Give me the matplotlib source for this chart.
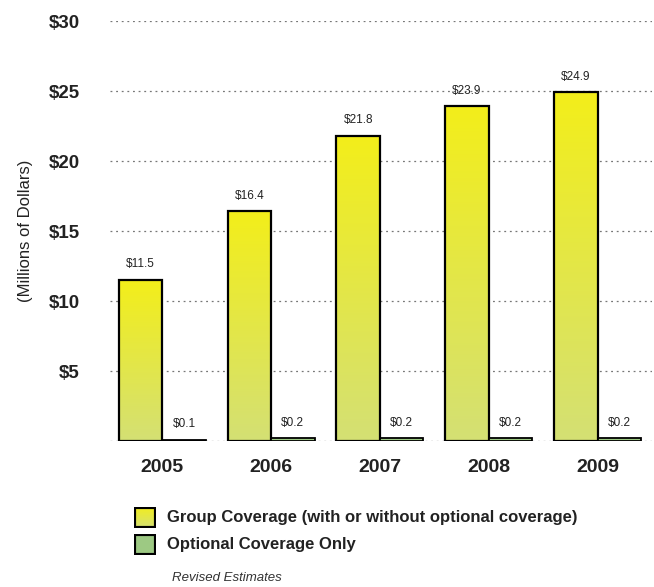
import numpy as np
import matplotlib
matplotlib.use("Agg")
import matplotlib.pyplot as plt
from matplotlib.colors import LinearSegmentedColormap
from matplotlib.patches import Rectangle

plt.rcParams['font.family'] = ['Liberation Sans Narrow', 'Liberation Sans', 'DejaVu Sans']

years = ["2005", "2006", "2007", "2008", "2009"]
group_cov = [11.5, 16.4, 21.8, 23.9, 24.9]
optional_cov = [0.1, 0.2, 0.2, 0.2, 0.2]
y_ticks = [5, 10, 15, 20, 25, 30]
legend_labels = ["Group Coverage (with or without optional coverage)", "Optional Coverage Only"]

grad = LinearSegmentedColormap.from_list("yel", ["#d4e074", "#f3ee1a"])
green = "#9dc983"

fig = plt.figure(figsize=(6.54, 5.87), dpi=100)
ax = fig.add_axes([110 / 654, 146 / 587, 542 / 654, 420 / 587])

x = np.arange(len(years))
w = 0.4
ax.set_xlim(-0.48, 4.5)
ax.set_ylim(0, 30)

# gridlines (dotted), including the zero line
for v in [0] + y_ticks:
    ax.axhline(v, color="#777777", lw=0.9, ls=(0, (1.5, 3)), zorder=0)

gradient = np.linspace(0, 1, 256).reshape(-1, 1)
for xi, v in zip(x, group_cov):
    left = xi - w
    rect = Rectangle((left, 0), w, v, facecolor="none", edgecolor="black", lw=1.6, zorder=3)
    ax.add_patch(rect)
    im = ax.imshow(gradient, cmap=grad, origin="lower", aspect="auto",
                   extent=(left, xi, 0, v), zorder=2)
    im.set_clip_path(rect)
    ax.text(xi - w / 2, v + 0.7, f"${v}", ha="center", va="bottom", fontsize=8.5, color="#222222")

ax.bar(x + w / 2, optional_cov, width=w, color=green, edgecolor="black", lw=1.3, zorder=3)
for xi, v in zip(x, optional_cov):
    ax.text(xi + w / 2, v + 0.65, f"${v}", ha="center", va="bottom", fontsize=8.5, color="#222222")

ax.set_yticks(y_ticks)
ax.set_yticklabels([f"${t}" for t in y_ticks], fontsize=13.5, fontweight="bold", color="#222222")
ax.set_xticks(x)
ax.set_xticklabels(years, fontsize=14, fontweight="bold", color="#222222")
ax.tick_params(length=0, axis="y", pad=22)
ax.tick_params(length=0, axis="x", pad=13)
for s in ax.spines.values():
    s.set_visible(False)
ax.set_ylabel("(Millions of Dollars)", fontsize=12, color="#222222", labelpad=11)

# legend
for i, (lab, yc) in enumerate(zip(legend_labels, [517.5, 544])):
    pax = fig.add_axes([134 / 654, 1 - (yc + 10.5) / 587, 22 / 654, 21 / 587])
    pax.set_axis_off()
    if i == 0:
        pax.imshow(gradient, cmap=grad, origin="lower", aspect="auto", extent=(0, 1, 0, 1))
    else:
        pax.add_patch(Rectangle((0, 0), 1, 1, facecolor=green))
    pax.add_patch(Rectangle((0, 0), 1, 1, facecolor="none", edgecolor="black", lw=3))
    pax.set_xlim(0, 1)
    pax.set_ylim(0, 1)
    fig.text(167 / 654, 1 - yc / 587, lab, fontsize=12, fontweight="bold", color="#222222",
             va="center", ha="left")

fig.text(172 / 654, 1 - 578 / 587, "Revised Estimates", fontsize=9.5, style="italic",
         color="#333333", va="center", ha="left")

fig.savefig("out.png", dpi=100)
